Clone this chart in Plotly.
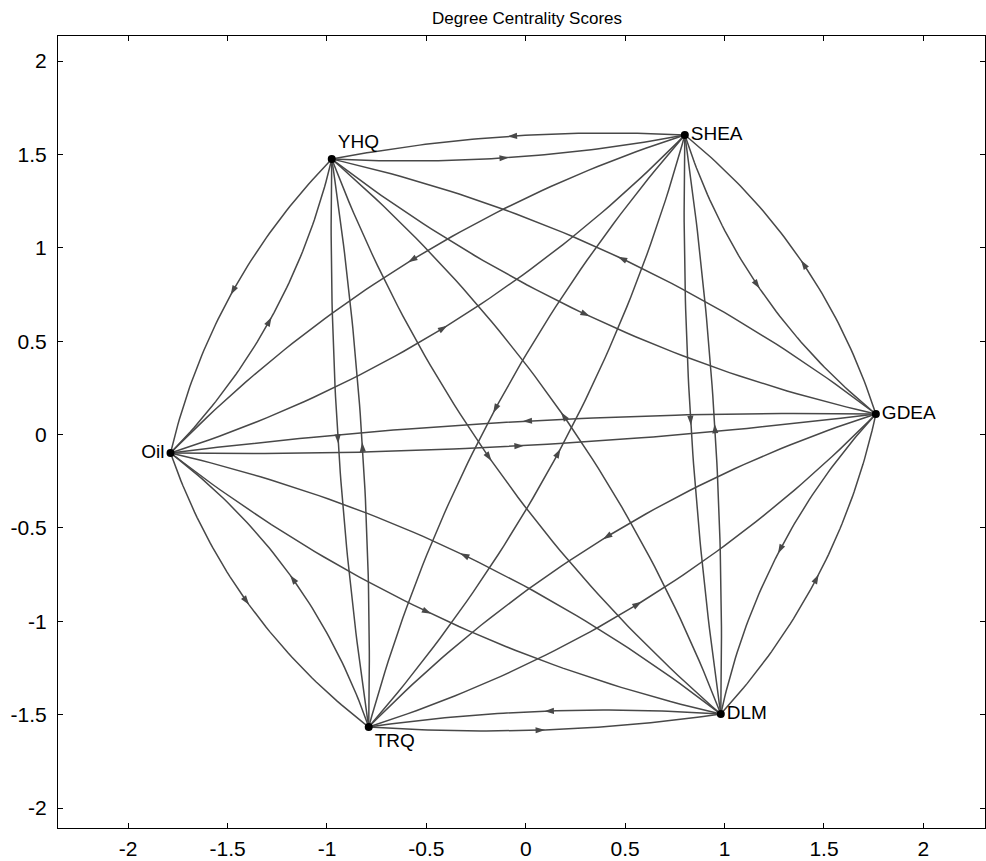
import math
import plotly.graph_objects as go

# ---- data ----
node_names = ["YHQ", "SHEA", "GDEA", "DLM", "TRQ", "Oil"]
node_x = [-0.976, 0.800, 1.761, 0.981, -0.790, -1.787]
node_y = [1.475, 1.604, 0.110, -1.497, -1.566, -0.099]

edge_source = ["YHQ", "SHEA", "YHQ", "GDEA", "YHQ", "DLM", "YHQ", "TRQ", "YHQ", "Oil",
               "SHEA", "GDEA", "SHEA", "DLM", "SHEA", "TRQ", "SHEA", "Oil",
               "GDEA", "DLM", "GDEA", "TRQ", "GDEA", "Oil",
               "DLM", "TRQ", "DLM", "Oil",
               "TRQ", "Oil"]
edge_target = ["SHEA", "YHQ", "GDEA", "YHQ", "DLM", "YHQ", "TRQ", "YHQ", "Oil", "YHQ",
               "GDEA", "SHEA", "DLM", "SHEA", "TRQ", "SHEA", "Oil", "SHEA",
               "DLM", "GDEA", "TRQ", "GDEA", "Oil", "GDEA",
               "TRQ", "DLM", "Oil", "DLM",
               "Oil", "TRQ"]

x_ticks = [-2, -1.5, -1, -0.5, 0, 0.5, 1, 1.5, 2]
y_ticks = [-2, -1.5, -1, -0.5, 0, 0.5, 1, 1.5, 2]
title_text = "Degree Centrality Scores"

# ---- style ----
label_pos = {"YHQ": "top right", "SHEA": "middle right", "GDEA": "middle right",
             "DLM": "middle right", "TRQ": "bottom right", "Oil": "middle left"}
X_RANGE = [-2.353, 2.31]
Y_RANGE = [-2.107, 2.134]
SX, SY = 198.7, 186.75   # approx pixels per data unit (for curve shaping)
EDGE_COLOR = "#484848"

idx = {n: i for i, n in enumerate(node_names)}

fig = go.Figure()

arrow_x, arrow_y, arrow_ang = [], [], []
for s, t in zip(edge_source, edge_target):
    x0, y0 = node_x[idx[s]] * SX, node_y[idx[s]] * SY
    x2, y2 = node_x[idx[t]] * SX, node_y[idx[t]] * SY
    dx, dy = x2 - x0, y2 - y0
    L = math.hypot(dx, dy)
    h = 8 + 0.108 * abs(dx) * abs(dy) / L      # curve bulge at midpoint (px)
    nx, ny = dy / L, -dx / L                   # right-hand normal
    cx = (x0 + x2) / 2 + nx * 2 * h
    cy = (y0 + y2) / 2 + ny * 2 * h
    xs, ys = [], []
    N = 60
    for k in range(N + 1):
        u = k / N
        bx = (1 - u) ** 2 * x0 + 2 * (1 - u) * u * cx + u ** 2 * x2
        by = (1 - u) ** 2 * y0 + 2 * (1 - u) * u * cy + u ** 2 * y2
        xs.append(bx / SX)
        ys.append(by / SY)
    fig.add_trace(go.Scatter(x=xs, y=ys, mode="lines",
                             line=dict(color=EDGE_COLOR, width=1.5),
                             hoverinfo="skip", showlegend=False))
    mx = 0.25 * x0 + 0.5 * cx + 0.25 * x2
    my = 0.25 * y0 + 0.5 * cy + 0.25 * y2
    arrow_x.append(mx / SX)
    arrow_y.append(my / SY)
    arrow_ang.append(math.degrees(math.atan2(dx, dy)))

fig.add_trace(go.Scatter(x=arrow_x, y=arrow_y, mode="markers",
                         marker=dict(symbol="arrow", size=10, angle=arrow_ang,
                                     color=EDGE_COLOR, line=dict(width=0)),
                         hoverinfo="skip", showlegend=False))

fig.add_trace(go.Scatter(x=node_x, y=node_y, mode="markers+text",
                         text=node_names,
                         textposition=[label_pos[n] for n in node_names],
                         textfont=dict(family="Liberation Sans, Arial", size=19, color="black"),
                         marker=dict(color="black", size=8),
                         hoverinfo="text", showlegend=False))

axis_common = dict(showgrid=False, zeroline=False, showline=True, mirror="ticks",
                   linecolor="black", linewidth=1, ticks="inside", ticklen=5,
                   tickcolor="black", automargin=False,
                   tickfont=dict(family="Liberation Sans, Arial", size=21, color="black"))
fig.update_xaxes(range=X_RANGE, tickvals=x_ticks, ticklabelstandoff=2,
                 ticktext=[f"{v:g}" for v in x_ticks], **axis_common)
fig.update_yaxes(range=Y_RANGE, tickvals=y_ticks, ticklabelstandoff=6,
                 ticktext=[f"{v:g}" for v in y_ticks], **axis_common)

fig.update_layout(
    width=986, height=861,
    margin=dict(l=58, r=1, t=36, b=33, autoexpand=False),
    paper_bgcolor="white", plot_bgcolor="white",
    title=dict(text=title_text, x=0.506, xanchor="center", xref="paper",
               y=1 - 18 / 861, yref="container", yanchor="middle",
               font=dict(family="Liberation Sans Narrow, Arial Narrow, Liberation Sans",
                         size=17, color="black")),
)

fig.write_html("out.html", config={"displayModeBar": False},
               post_script="document.body.style.margin='0';")
